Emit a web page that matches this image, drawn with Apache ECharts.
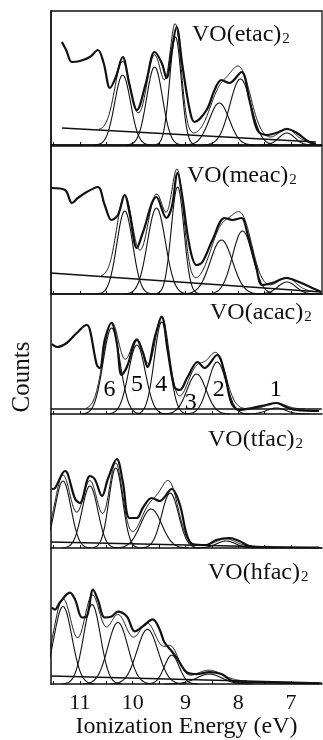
<!DOCTYPE html>
<html>
<head>
<meta charset="utf-8">
<style>
  html, body { margin: 0; padding: 0; background: #fff; }
  #main { width: 323px; height: 740px; }
</style>
<script src="https://cdn.jsdelivr.net/npm/echarts@6/dist/echarts.min.js"></script>
</head>
<body>
<div id="main"></div>
<script>
// energy axis in eV, drawn high -> low
var energyMin = 6.415;
var energyMax = 11.547;
var energyLabels = [7, 8, 9, 10, 11];
var energyTicks = [7, 7.5, 8, 8.5, 9, 9.5, 10, 10.5, 11, 11.5];

var compounds = ['etac', 'meac', 'acac', 'tfac', 'hfac'];

// measured spectra [eV, counts]
var etacSpectrum = [[11.34,103],[11.26,95],[11.15,83],[11.0,84],[10.81,88],[10.66,95],[10.55,82],[10.43,57],[10.32,68],[10.19,88],[10.06,60],[9.92,35],[9.75,62],[9.585,93],[9.45,82],[9.36,67],[9.26,95],[9.17,118],[9.06,80],[8.92,35],[8.83,23],[8.60,35],[8.45,55],[8.32,65],[8.17,62],[7.94,73],[7.79,45],[7.64,15],[7.47,10],[7.23,13],[7.08,16],[6.89,12],[6.66,3],[6.53,1]];
var meacSpectrum = [[11.53,106],[11.28,104],[11.15,91],[11.04,96],[10.87,102],[10.66,107],[10.53,89],[10.40,74],[10.28,79],[10.15,99],[10.06,81],[9.92,46],[9.81,61],[9.55,97],[9.36,76],[9.26,87],[9.15,121],[9.06,97],[8.92,47],[8.79,29],[8.68,32],[8.49,54],[8.26,76],[8.11,74],[7.94,76],[7.83,61],[7.66,27],[7.55,9],[7.36,11],[7.09,16],[6.85,12],[6.60,6],[6.43,2]];
var acacSpectrum = [[11.53,70],[11.43,67],[11.25,71],[11.06,81],[10.87,89],[10.81,84],[10.68,49],[10.62,46],[10.53,74],[10.40,91],[10.30,71],[10.21,39],[10.11,47],[9.92,74],[9.81,62],[9.72,47],[9.58,77],[9.45,97],[9.34,64],[9.21,27],[9.11,24],[8.96,37],[8.77,52],[8.64,46],[8.40,59],[8.26,41],[8.13,11],[7.98,4],[7.74,6],[7.47,9],[7.28,11],[7.09,7],[6.91,4],[6.47,3]];
var tfacSpectrum = [[11.53,59],[11.47,60],[11.28,77],[11.23,74],[11.09,49],[11.0,45],[10.81,72],[10.72,69],[10.58,52],[10.47,69],[10.30,89],[10.19,67],[10.06,30],[9.92,30],[9.81,40],[9.64,50],[9.49,47],[9.26,59],[9.11,44],[8.98,14],[8.87,4],[8.60,3],[8.42,8],[8.17,10],[7.98,7],[7.79,2],[7.36,0.5],[6.47,0.5]];
var hfacSpectrum = [[11.53,77],[11.47,75],[11.38,82],[11.19,92],[11.09,85],[10.96,67],[10.87,68],[10.75,95],[10.66,85],[10.53,67],[10.40,68],[10.28,73],[10.11,68],[9.96,53],[9.81,58],[9.62,65],[9.49,55],[9.40,42],[9.26,33],[9.15,25],[8.98,12],[8.79,10],[8.55,12],[8.32,10],[8.11,3],[7.85,2],[6.47,0.5]];

// fitted bands [centre eV, height, width eV]
var etacBands = [[10.19,70,0.15],[9.585,78,0.15],[9.19,108,0.11],[8.36,42,0.19],[7.96,66,0.2],[7.08,12,0.15]];
var meacBands = [[10.15,83,0.15],[9.55,86,0.17],[9.15,107,0.12],[8.32,54,0.21],[7.92,63,0.19],[7.08,12,0.17]];
var acacBands = [[10.40,86,0.16],[9.92,69,0.16],[9.45,92,0.14],[8.79,40,0.18],[8.40,52,0.17],[7.28,6,0.18]];
var tfacBands = [[11.32,67,0.15],[10.81,62,0.15],[10.32,80,0.13],[9.65,39,0.2],[9.29,55,0.16],[8.23,7,0.18]];
var hfacBands = [[11.32,78,0.17],[10.77,80,0.16],[10.28,62,0.19],[9.72,55,0.2],[9.26,29,0.14],[8.55,10,0.24]];

// linear backgrounds [[eV, counts], [eV, counts]]
var etacBackground = [[11.34,17],[6.53,3]];
var meacBackground = [[11.55,21],[6.43,2]];
var acacBackground = [[11.55,5],[6.42,5]];
var tfacBackground = [[11.55,6],[6.42,0]];
var hfacBackground = [[11.55,8],[6.42,1]];

// band numbers of VO(acac)2
var acacBandNames = ['6', '5', '4', '3', '2', '1'];
var acacNameEnergy = [10.43, 9.91, 9.45, 8.89, 8.36, 7.28];
var acacNameCounts = [24, 29, 29, 11, 24, 24];

var spectra = [etacSpectrum, meacSpectrum, acacSpectrum, tfacSpectrum, hfacSpectrum];
var bands = [etacBands, meacBands, acacBands, tfacBands, hfacBands];
var backgrounds = [etacBackground, meacBackground, acacBackground, tfacBackground, hfacBackground];

// panel layout (px)
var panelTop = [11, 146, 294, 414, 548];
var panelHeight = [134, 148, 120, 134, 137];
var titleLeft = [192, 187, 210, 208, 208];
var titleTop = [23, 164, 301, 428, 561];

var serif = '"Liberation Serif", "DejaVu Serif", serif';
var ink = '#111';

function bandProfile(b) {
    var pts = [];
    for (var k = -35; k <= 35; k++) {
        pts.push([b[0] + k * b[2] / 10, b[1] * Math.exp(-0.5 * (k / 10) * (k / 10))]);
    }
    return pts;
}

function backgroundAt(bg, e) {
    var t = (e - bg[0][0]) / (bg[1][0] - bg[0][0]);
    return bg[0][1] + t * (bg[1][1] - bg[0][1]);
}

// sum of the bands on top of the background
function fitCurve(bs, bg) {
    var hi = -Infinity, lo = Infinity;
    bs.forEach(function(b) {
        hi = Math.max(hi, b[0] + 3 * b[2]);
        lo = Math.min(lo, b[0] - 3 * b[2]);
    });
    var pts = [];
    for (var e = hi; e >= lo; e -= 0.02) {
        var y = backgroundAt(bg, e);
        bs.forEach(function(b) {
            y += b[1] * Math.exp(-0.5 * Math.pow((e - b[0]) / b[2], 2));
        });
        pts.push([e, y]);
    }
    return pts;
}

var grids = [], xAxes = [], yAxes = [], series = [], titles = [];

compounds.forEach(function(name, i) {
    var boxed = i < 2;
    grids.push({
        left: 51, right: 1, top: panelTop[i], height: panelHeight[i],
        show: boxed, borderColor: ink, borderWidth: 1.3, backgroundColor: 'transparent'
    });
    xAxes.push({
        gridIndex: i, type: 'value', min: energyMin, max: energyMax, inverse: true,
        axisLine: { show: true, lineStyle: { color: ink, width: 1.5 } },
        axisTick: { show: true, inside: true, length: 3, customValues: energyTicks, lineStyle: { color: ink } },
        axisLabel: {
            show: i === 4, customValues: energyLabels, margin: 8,
            color: ink, fontFamily: serif, fontSize: 22
        },
        splitLine: { show: false },
        name: i === 4 ? 'Ionization Energy (eV)' : '',
        nameLocation: 'middle', nameGap: 31,
        nameTextStyle: { color: ink, fontFamily: serif, fontSize: 24 }
    });
    yAxes.push({
        gridIndex: i, type: 'value', min: 0, max: panelHeight[i],
        axisLine: { show: true, lineStyle: { color: ink, width: 1.5 } },
        axisTick: { show: false }, axisLabel: { show: false }, splitLine: { show: false }
    });
    titles.push({
        text: '{m|VO(' + name + ')}{s|2}',
        left: titleLeft[i], top: titleTop[i], padding: 0,
        textStyle: {
            fontWeight: 'normal',
            rich: {
                m: { fontFamily: serif, fontSize: 24, fontWeight: 'normal', color: ink, lineHeight: 24, verticalAlign: 'top' },
                s: { fontFamily: serif, fontSize: 15, fontWeight: 'normal', color: ink, lineHeight: 15, padding: [14, 0, 0, 1], verticalAlign: 'bottom' }
            }
        }
    });

    // components
    bands[i].forEach(function(b) {
        series.push({
            type: 'line', xAxisIndex: i, yAxisIndex: i, data: bandProfile(b),
            smooth: true, symbol: 'none', silent: true,
            lineStyle: { color: ink, width: 1.1 }
        });
    });
    // background
    series.push({
        type: 'line', xAxisIndex: i, yAxisIndex: i, data: backgrounds[i],
        symbol: 'none', silent: true, lineStyle: { color: ink, width: 1.4 }
    });
    // fit
    series.push({
        type: 'line', xAxisIndex: i, yAxisIndex: i, data: fitCurve(bands[i], backgrounds[i]),
        smooth: true, symbol: 'none', silent: true, lineStyle: { color: ink, width: 1 }
    });
    // measured
    series.push({
        type: 'line', xAxisIndex: i, yAxisIndex: i, data: spectra[i],
        smooth: 0.35, symbol: 'none', silent: true, lineStyle: { color: ink, width: 2.2 }
    });
});

series.push({
    type: 'scatter', xAxisIndex: 2, yAxisIndex: 2, symbolSize: 1, silent: true,
    itemStyle: { color: 'transparent', opacity: 1 },
    data: acacBandNames.map(function(n, k) {
        return { name: n, value: [acacNameEnergy[k], acacNameCounts[k]] };
    }),
    label: {
        show: true, position: [0, 0], align: 'center', verticalAlign: 'middle',
        formatter: '{b}', opacity: 1,
        fontFamily: serif, fontSize: 24, color: '#000', textBorderWidth: 0
    }
});

var chart = echarts.init(document.getElementById('main'), null, { renderer: 'canvas' });
chart.setOption({
    animation: false,
    backgroundColor: '#fff',
    title: titles,
    grid: grids,
    xAxis: xAxes,
    yAxis: yAxes,
    series: series,
    graphic: [{
        type: 'text', x: 22, y: 377, rotation: Math.PI / 2,
        style: { text: 'Counts', fontFamily: serif, fontSize: 25, fill: ink, align: 'center', verticalAlign: 'middle' }
    }]
});
</script>
</body>
</html>
